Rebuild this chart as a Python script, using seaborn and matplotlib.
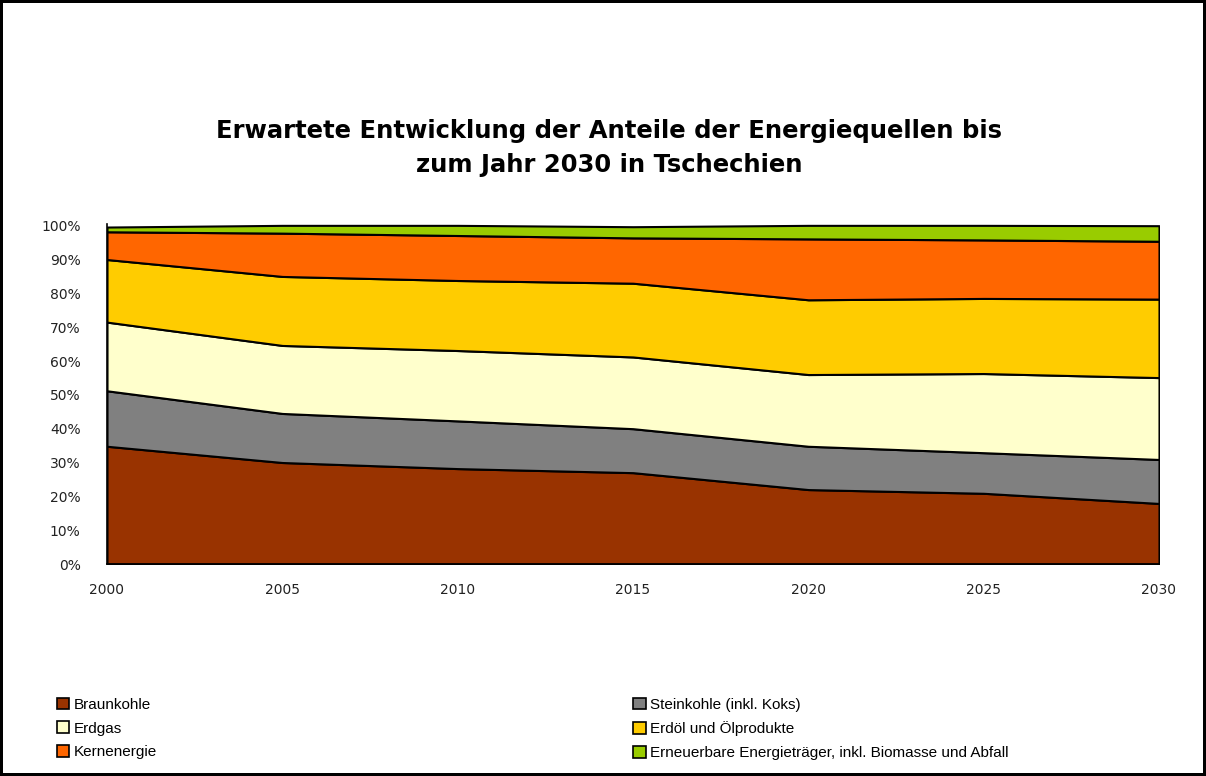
import numpy as np
import pandas as pd
import seaborn as sns
import matplotlib.pyplot as plt
from matplotlib.patches import Patch

years = [2000, 2005, 2010, 2015, 2020, 2025, 2030]

braunkohle = [34.8, 30.0, 28.2, 27.0, 22.0, 20.9, 17.9]
steinkohle = [16.4, 14.5, 14.1, 13.0, 12.8, 12.0, 13.0]
erdgas = [20.3, 20.1, 20.8, 21.2, 21.2, 23.4, 24.2]
erdoel = [18.5, 20.4, 20.7, 21.8, 22.1, 22.2, 23.2]
kernenergie = [8.2, 12.8, 13.3, 13.4, 18.0, 17.3, 17.1]
erneuerbare = [1.4, 2.3, 3.0, 3.3, 4.0, 4.3, 4.6]

labels = ["Braunkohle", "Steinkohle (inkl. Koks)", "Erdgas",
          "Erdöl und Ölprodukte", "Kernenergie",
          "Erneuerbare Energieträger, inkl. Biomasse und Abfall"]
colors = ["#993300", "#808080", "#FFFFCC", "#FFCC00", "#FF6600", "#99CC00"]

df = pd.DataFrame({"Jahr": years, labels[0]: braunkohle, labels[1]: steinkohle,
                   labels[2]: erdgas, labels[3]: erdoel, labels[4]: kernenergie,
                   labels[5]: erneuerbare})

sns.set_theme(style="white")
plt.rcParams['font.family'] = ['DejaVu Sans']
plt.rcParams['text.color'] = 'black'

fig = plt.figure(figsize=(12.06, 7.76), dpi=100)
fig.patch.set_edgecolor("black")
fig.patch.set_linewidth(3)
ax = fig.add_axes([107 / 1206, 1 - 564 / 776, (1159 - 107) / 1206, (564 - 224) / 776])

ax.stackplot(df["Jahr"], [df[l] for l in labels], colors=colors,
             edgecolor="black", linewidth=1.5)

ax.set_xlim(2000, 2030)
ax.set_ylim(0, 100.5)
ax.set_xticks(years)
ax.set_xticklabels([str(y) for y in years], fontsize=10, color="#222222")
ax.set_yticks(range(0, 101, 10))
ax.set_yticklabels([f"{v}%" for v in range(0, 101, 10)], fontsize=10, color="#222222")
ax.tick_params(axis="x", length=0, pad=14)
ax.tick_params(axis="y", length=0, pad=19)
for s in ["top", "right"]:
    ax.spines[s].set_visible(False)
for s in ["left", "bottom"]:
    ax.spines[s].set_color("black")
    ax.spines[s].set_linewidth(1.2)

fig.text(0.505, 1 - 148 / 776,
         "Erwartete Entwicklung der Anteile der Energiequellen bis\nzum Jahr 2030 in Tschechien",
         ha="center", va="center", fontsize=17.5, fontweight="bold", linespacing=1.55,
         color="black")

order = [0, 2, 4, 1, 3, 5]
handles = [Patch(facecolor=colors[i], edgecolor="black", linewidth=1.2) for i in order]
leg = fig.legend(handles, [labels[i] for i in order], ncol=2, loc="upper left",
                 bbox_to_anchor=(43 / 1206, 1 - 684 / 776), frameon=False,
                 prop={"family": "Liberation Sans", "size": 11},
                 handlelength=0.8, handleheight=0.8, handletextpad=0.3,
                 labelspacing=0.62, columnspacing=31.2)

fig.savefig("out.png", dpi=100)
